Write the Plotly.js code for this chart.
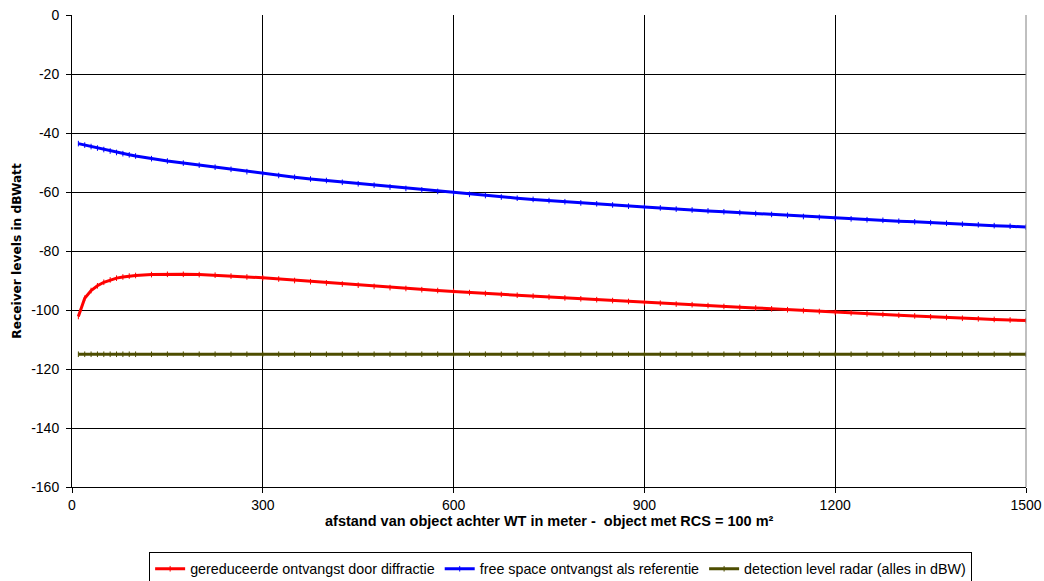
<!DOCTYPE html>
<html>
<head>
<meta charset="utf-8">
<script src="https://cdn.plot.ly/plotly-3.0.1.min.js"></script>
<style>html,body{margin:0;padding:0;background:#fff}#chart{width:1044px;height:581px}</style>
</head>
<body>
<div id="chart"></div>
<script>
// distance behind the wind turbine (m)
const distance = [10,20,30,40,50,60,70,80,90,100,125,150,175,200,225,250,275,300,325,350,375,400,425,450,475,500,525,550,575,600,625,650,675,700,725,750,775,800,825,850,875,900,925,950,975,1000,1025,1050,1075,1100,1125,1150,1175,1200,1225,1250,1275,1300,1325,1350,1375,1400,1425,1450,1475,1500];

// reduced reception by diffraction (dBW)
const diffractie = [-102.2,-96.0,-93.4,-91.8,-90.6,-89.8,-89.2,-88.8,-88.5,-88.3,-88.0,-87.9,-87.9,-88.0,-88.2,-88.5,-88.8,-89.1,-89.5,-90.0,-90.4,-90.8,-91.2,-91.6,-92.0,-92.4,-92.7,-93.1,-93.4,-93.7,-94.1,-94.4,-94.7,-95.0,-95.3,-95.6,-95.9,-96.2,-96.5,-96.8,-97.1,-97.5,-97.7,-98.0,-98.2,-98.5,-98.8,-99.1,-99.3,-99.6,-99.9,-100.2,-100.5,-100.8,-101.0,-101.3,-101.5,-101.8,-102.0,-102.3,-102.5,-102.8,-103.0,-103.2,-103.4,-103.6];

// free space reception as reference (dBW)
const freeSpace = [-43.6,-44.1,-44.6,-45.1,-45.6,-46.1,-46.6,-47.0,-47.4,-47.8,-48.7,-49.5,-50.2,-50.9,-51.6,-52.3,-53.1,-53.8,-54.4,-55.0,-55.6,-56.1,-56.7,-57.2,-57.7,-58.3,-58.8,-59.3,-59.8,-60.3,-60.8,-61.2,-61.7,-62.1,-62.5,-62.9,-63.3,-63.7,-64.0,-64.4,-64.8,-65.1,-65.4,-65.8,-66.1,-66.4,-66.7,-67.0,-67.3,-67.6,-67.9,-68.3,-68.6,-68.9,-69.1,-69.4,-69.6,-69.9,-70.1,-70.4,-70.6,-70.9,-71.1,-71.4,-71.6,-71.9];

// detection level radar (dBW)
const detectie = [-115,-115,-115,-115,-115,-115,-115,-115,-115,-115,-115,-115,-115,-115,-115,-115,-115,-115,-115,-115,-115,-115,-115,-115,-115,-115,-115,-115,-115,-115,-115,-115,-115,-115,-115,-115,-115,-115,-115,-115,-115,-115,-115,-115,-115,-115,-115,-115,-115,-115,-115,-115,-115,-115,-115,-115,-115,-115,-115,-115,-115,-115,-115,-115,-115,-115];

const seriesNames = ["gereduceerde ontvangst door diffractie", "free space ontvangst als referentie", "detection level radar (alles in dBW)"];
const xTickVals = [0,300,600,900,1200,1500];
const yTickVals = [0,-20,-40,-60,-80,-100,-120,-140,-160];
const xTitle = "afstand van object achter WT in meter -  object met RCS = 100 m²";
const yTitle = "Receiver levels in dBWatt";

const mk = (y, name, color) => ({
  x: distance, y: y, name: name, type: 'scatter', mode: 'lines+markers',
  line: {color: color, width: 3},
  marker: {symbol: 'line-ns', size: 4, line: {color: color, width: 1}, color: color}
});

const data = [
  mk(diffractie, seriesNames[0], '#ff0000'),
  mk(freeSpace, seriesNames[1], '#0000ff'),
  mk(detectie, seriesNames[2], '#4d4d00')
];

const FAM = 'Liberation Sans, Arial, sans-serif';
const tickFont = {family: FAM, size: 14, color: '#000'};

const layout = {
  width: 1044, height: 581,
  margin: {l: 72, r: 18, t: 15, b: 94},
  paper_bgcolor: '#fff', plot_bgcolor: '#fff',
  font: tickFont,
  showlegend: true,
  legend: {
    orientation: 'h', xref: 'container', yref: 'container',
    x: 0.537, xanchor: 'center', y: 0.05, yanchor: 'top',
    bordercolor: '#000', borderwidth: 1, bgcolor: '#fff',
    font: {family: FAM, size: 14.3, color: '#000'},
    itemwidth: 30, tracegroupgap: 0
  },
  xaxis: {
    range: [0, 1500], tickvals: xTickVals, ticktext: xTickVals.map(String),
    showgrid: true, gridcolor: '#000', gridwidth: 1,
    showline: true, linecolor: '#000', linewidth: 1,
    ticks: 'outside', ticklen: 5, tickcolor: '#000', zeroline: false,
    tickfont: tickFont, fixedrange: true, automargin: false
  },
  yaxis: {
    range: [-160, 0], tickvals: yTickVals, ticktext: yTickVals.map(String),
    showgrid: true, gridcolor: '#000', gridwidth: 1,
    showline: true, linecolor: '#000', linewidth: 1,
    ticks: 'outside', ticklen: 5, tickcolor: '#000', zeroline: false,
    ticklabelstandoff: 4,
    tickfont: tickFont, fixedrange: true, automargin: false
  },
  shapes: [
    {type: 'line', xref: 'paper', yref: 'paper', x0: 1, x1: 1, y0: 0, y1: 1, line: {color: '#808080', width: 1}}
  ],
  annotations: [
    {text: '<b>' + xTitle + '</b>', xref: 'paper', yref: 'paper', x: 0.5, y: -0.072, xanchor: 'center', yanchor: 'middle', showarrow: false,
     font: {family: FAM, size: 14.5, color: '#000'}},
    {text: '<b>' + yTitle + '</b>', xref: 'paper', yref: 'paper', x: -0.058, y: 0.5, xanchor: 'center', yanchor: 'middle', textangle: -90, showarrow: false,
     font: {family: 'DejaVu Sans, Verdana, sans-serif', size: 12.2, color: '#000'}}
  ]
};

Plotly.newPlot('chart', data, layout, {displayModeBar: false, staticPlot: true});
</script>
</body>
</html>
